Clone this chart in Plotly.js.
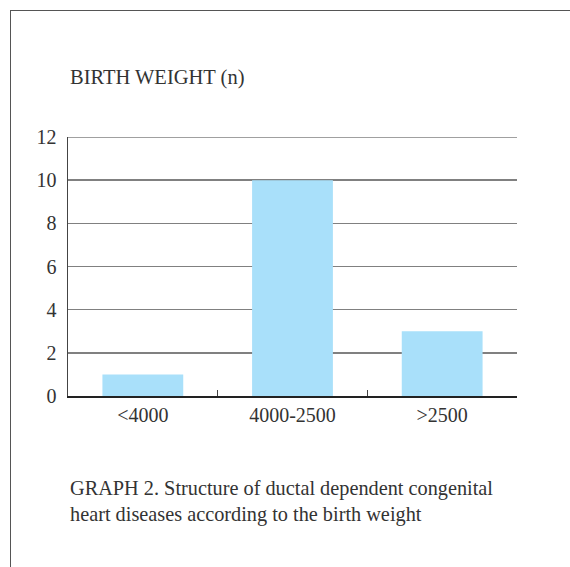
<!DOCTYPE html>
<html>
<head>
<meta charset="utf-8">
<script src="https://cdn.plot.ly/plotly-3.0.1.min.js"></script>
<style>
html,body{margin:0;padding:0;background:#fff;}
#wrap{position:relative;width:570px;height:567px;}
#chart{position:absolute;left:0;top:0;width:570px;height:567px;}
#frame{position:absolute;left:10px;top:10px;width:560px;height:557px;border-top:1px solid #555;border-left:1px solid #555;pointer-events:none;box-sizing:border-box;}
</style>
</head>
<body>
<div id="wrap"><div id="chart"></div><div id="frame"></div></div>
<script>
const categories = ['<4000', '4000-2500', '>2500'];
const counts = [1, 10, 3];
const yTicks = [0, 2, 4, 6, 8, 10, 12];

const font = 'Liberation Serif, Times New Roman, serif';

const trace = {
  type: 'bar',
  x: categories,
  y: counts,
  width: 0.54,
  marker: {color: '#a9e0fa', line: {width: 0}},
  hoverinfo: 'skip'
};

const layout = {
  width: 570,
  height: 567,
  margin: {l: 68, r: 53, t: 137, b: 171},
  paper_bgcolor: 'rgba(0,0,0,0)',
  plot_bgcolor: '#fff',
  showlegend: false,
  font: {family: font, color: '#333', size: 20},
  xaxis: {
    type: 'category',
    tickson: 'boundaries',
    ticks: 'inside',
    ticklen: 6,
    tickwidth: 1.5,
    tickcolor: '#444',
    showline: true,
    linecolor: '#222',
    linewidth: 1.5,
    showgrid: false,
    tickfont: {family: font, size: 20, color: '#333'},
    fixedrange: true
  },
  yaxis: {
    range: [0, 12],
    tickvals: yTicks,
    ticktext: yTicks.map(String),
    showline: true,
    linecolor: '#444',
    linewidth: 1.5,
    showgrid: true,
    gridcolor: '#808080',
    gridwidth: 1.5,
    zeroline: false,
    ticks: '',
    ticklabelstandoff: 6,
    tickfont: {family: font, size: 20, color: '#333'},
    fixedrange: true
  },
  shapes: [
    {type: 'line', xref: 'paper', yref: 'y', x0: 0, x1: 1, y0: yTicks[yTicks.length - 1], y1: yTicks[yTicks.length - 1],
     line: {color: '#808080', width: 1.5}}
  ],
  annotations: [
    {
      text: 'BIRTH WEIGHT (n)',
      xref: 'paper', yref: 'paper',
      x: 0, y: 1.228,
      xanchor: 'left', yanchor: 'middle',
      showarrow: false,
      font: {family: font, size: 20.5, color: '#333'}
    },
    {
      text: 'GRAPH 2. Structure of ductal dependent congenital<br>heart diseases according to the birth weight',
      xref: 'paper', yref: 'paper',
      x: 0, y: -0.409,
      xanchor: 'left', yanchor: 'middle',
      align: 'left',
      showarrow: false,
      font: {family: font, size: 20.3, color: '#333'}
    }
  ]
};

Plotly.newPlot('chart', [trace], layout, {staticPlot: true, displayModeBar: false});
</script>
</body>
</html>
